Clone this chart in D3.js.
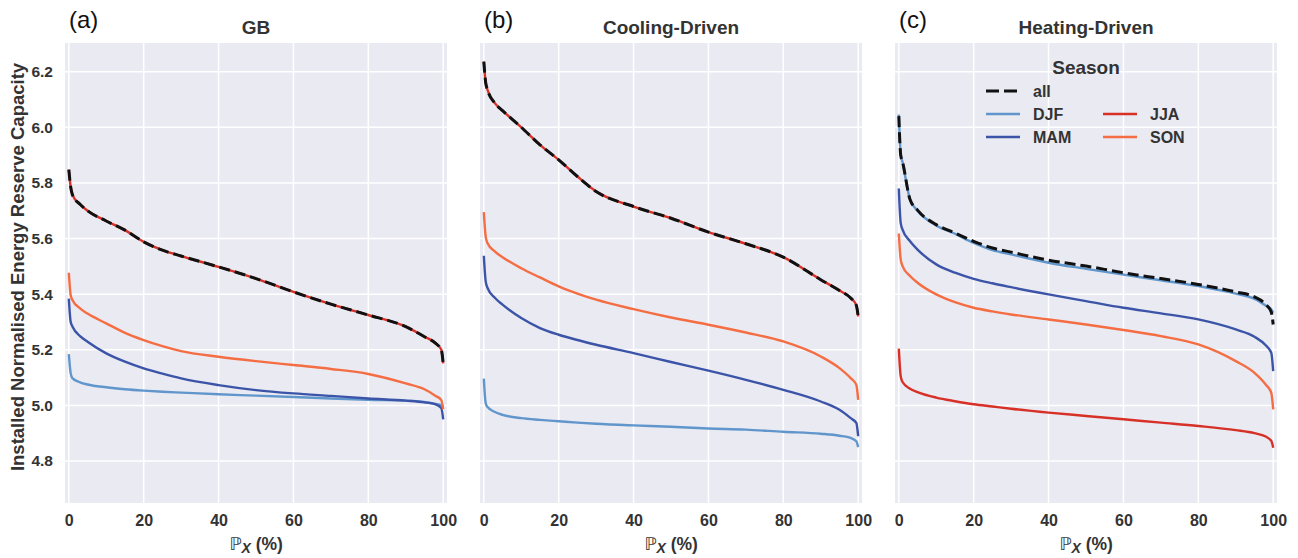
<!DOCTYPE html>
<html>
<head>
<meta charset="utf-8">
<script src="https://cdn.jsdelivr.net/npm/d3@7"></script>
<style>
  body { margin: 0; background: #fff; }
  svg text { font-family: "Liberation Sans", Arial, sans-serif; }
</style>
</head>
<body>
<div id="canvas"></div>
<script>
// x positions (percent of time) shared by every curve
let px = [0, 0.5, 1, 3, 5, 10, 15, 20, 25, 30, 40, 50, 60, 70, 80, 90, 95, 98, 99.5, 100];

// (a) GB
let gbAll = [5.848, 5.785, 5.756, 5.723, 5.700, 5.663, 5.630, 5.588, 5.558, 5.537, 5.498, 5.456, 5.408, 5.364, 5.325, 5.283, 5.247, 5.223, 5.200, 5.151];
let gbDJF = [5.184, 5.115, 5.097, 5.083, 5.075, 5.065, 5.058, 5.053, 5.049, 5.046, 5.040, 5.035, 5.030, 5.025, 5.020, 5.017, 5.012, 5.005, 5.000, 4.995];
let gbMAM = [5.384, 5.300, 5.283, 5.249, 5.229, 5.187, 5.157, 5.133, 5.114, 5.097, 5.073, 5.055, 5.043, 5.034, 5.025, 5.017, 5.011, 5.004, 4.990, 4.950];
let gbJJA = [5.848, 5.785, 5.756, 5.723, 5.700, 5.663, 5.630, 5.588, 5.558, 5.537, 5.498, 5.456, 5.408, 5.364, 5.325, 5.283, 5.247, 5.223, 5.200, 5.151];
let gbSON = [5.477, 5.396, 5.378, 5.349, 5.330, 5.295, 5.261, 5.235, 5.213, 5.195, 5.175, 5.159, 5.145, 5.131, 5.113, 5.079, 5.058, 5.034, 5.019, 4.986];

// (b) Cooling-Driven
let coolAll = [6.236, 6.160, 6.134, 6.086, 6.060, 6.000, 5.937, 5.883, 5.823, 5.769, 5.715, 5.673, 5.623, 5.581, 5.533, 5.452, 5.413, 5.386, 5.360, 5.320];
let coolDJF = [5.096, 5.008, 4.994, 4.976, 4.966, 4.954, 4.948, 4.943, 4.938, 4.934, 4.928, 4.923, 4.917, 4.913, 4.905, 4.898, 4.891, 4.883, 4.871, 4.850];
let coolMAM = [5.538, 5.446, 5.422, 5.386, 5.362, 5.314, 5.278, 5.254, 5.235, 5.218, 5.188, 5.156, 5.125, 5.092, 5.056, 5.014, 4.984, 4.954, 4.937, 4.889];
let coolJJA = [6.236, 6.160, 6.134, 6.086, 6.060, 6.000, 5.937, 5.883, 5.823, 5.769, 5.715, 5.673, 5.623, 5.581, 5.533, 5.452, 5.413, 5.386, 5.360, 5.320];
let coolSON = [5.695, 5.607, 5.583, 5.553, 5.533, 5.493, 5.460, 5.428, 5.402, 5.380, 5.346, 5.316, 5.290, 5.262, 5.230, 5.176, 5.134, 5.098, 5.074, 5.020];

// (c) Heating-Driven
let heatAll = [6.040, 5.900, 5.875, 5.740, 5.702, 5.650, 5.620, 5.590, 5.566, 5.551, 5.522, 5.501, 5.477, 5.456, 5.435, 5.408, 5.390, 5.363, 5.335, 5.291];
let heatDJF = [6.046, 5.905, 5.875, 5.740, 5.700, 5.647, 5.617, 5.584, 5.558, 5.543, 5.513, 5.491, 5.470, 5.450, 5.429, 5.402, 5.383, 5.359, 5.345, 5.333];
let heatMAM = [5.780, 5.656, 5.632, 5.590, 5.560, 5.507, 5.477, 5.455, 5.439, 5.425, 5.399, 5.375, 5.351, 5.331, 5.309, 5.273, 5.247, 5.216, 5.189, 5.123];
let heatJJA = [5.204, 5.105, 5.084, 5.060, 5.048, 5.028, 5.015, 5.004, 4.996, 4.988, 4.974, 4.962, 4.950, 4.938, 4.926, 4.911, 4.900, 4.888, 4.872, 4.848];
let heatSON = [5.618, 5.525, 5.501, 5.465, 5.441, 5.399, 5.371, 5.351, 5.338, 5.327, 5.309, 5.291, 5.271, 5.249, 5.219, 5.159, 5.117, 5.075, 5.045, 4.986];

let seasons = ["DJF", "MAM", "JJA", "SON"];
let seasonColors = { "DJF": "#6096cc", "MAM": "#3b54a8", "JJA": "#d73027", "SON": "#f46d43" };
let panelLetters = ["(a)", "(b)", "(c)"];
let panelTitles = ["GB", "Cooling-Driven", "Heating-Driven"];
let xTicks = [0, 20, 40, 60, 80, 100];
let yTicks = [4.8, 5.0, 5.2, 5.4, 5.6, 5.8, 6.0, 6.2];

let panels = [
    { all: gbAll, DJF: gbDJF, MAM: gbMAM, JJA: gbJJA, SON: gbSON },
    { all: coolAll, DJF: coolDJF, MAM: coolMAM, JJA: coolJJA, SON: coolSON },
    { all: heatAll, DJF: heatDJF, MAM: heatMAM, JJA: heatJJA, SON: heatSON }
];

let width = 1298;
let height = 558;
let plotW = 382;
let plotTop = 43;
let plotBottom = 503;
let lefts = [65, 480, 895];
let textColor = "#333";

let canvas = d3.select("#canvas")
    .append("svg")
    .attr("width", width)
    .attr("height", height);

const yScale = d3.scaleLinear()
    .domain([4.649, 6.303])
    .range([plotBottom, plotTop]);

panels.forEach((p, i) => {
    const xScale = d3.scaleLinear()
        .domain([-1.02, 101.02])
        .range([lefts[i], lefts[i] + plotW]);

    let g = canvas.append("g");

    g.append("rect")
        .attr("x", lefts[i])
        .attr("y", plotTop)
        .attr("width", plotW)
        .attr("height", plotBottom - plotTop)
        .attr("fill", "#eaeaf2");

    // grid
    g.selectAll(".vgrid")
        .data(xTicks)
        .join("line")
        .attr("x1", d => xScale(d)).attr("x2", d => xScale(d))
        .attr("y1", plotTop).attr("y2", plotBottom)
        .attr("stroke", "#fff").attr("stroke-width", 1.5);
    g.selectAll(".hgrid")
        .data(yTicks)
        .join("line")
        .attr("x1", lefts[i]).attr("x2", lefts[i] + plotW)
        .attr("y1", d => yScale(d)).attr("y2", d => yScale(d))
        .attr("stroke", "#fff").attr("stroke-width", 1.5);

    // x axis labels
    let xAxis = d3.axisBottom(xScale).tickValues(xTicks).tickSize(0).tickPadding(0);
    let xa = g.append("g")
        .attr("transform", `translate(0,${plotBottom + 12})`)
        .call(xAxis);
    xa.select(".domain").remove();
    xa.selectAll("text")
        .attr("font-family", "Liberation Sans, Arial, sans-serif")
        .attr("font-size", 16).attr("font-weight", "bold").attr("fill", textColor);

    if (i === 0) {
        let yAxis = d3.axisLeft(yScale).tickValues(yTicks).tickFormat(d3.format(".1f")).tickSize(0).tickPadding(0);
        let ya = g.append("g")
            .attr("transform", `translate(${lefts[i] - 12},0)`)
            .call(yAxis);
        ya.select(".domain").remove();
        ya.selectAll("text")
            .attr("font-family", "Liberation Sans, Arial, sans-serif")
            .attr("font-size", 15.5).attr("font-weight", "bold").attr("fill", textColor);
    }

    let line = d3.line()
        .x((d, k) => xScale(px[k]))
        .y(d => yScale(d))
        .curve(d3.curveMonotoneX);

    seasons.forEach(s => {
        g.append("path")
            .attr("d", line(p[s]))
            .attr("fill", "none")
            .attr("stroke", seasonColors[s])
            .attr("stroke-width", 2.4)
            .attr("stroke-linejoin", "round");
    });
    g.append("path")
        .attr("d", line(p.all))
        .attr("fill", "none")
        .attr("stroke", "#111")
        .attr("stroke-width", 3)
        .attr("stroke-dasharray", "11,5");

    // titles
    g.append("text")
        .attr("x", lefts[i] + 4)
        .attr("y", 28)
        .attr("font-size", 24)
        .attr("fill", "#111")
        .text(panelLetters[i]);
    g.append("text")
        .attr("x", lefts[i] + plotW / 2)
        .attr("y", 34)
        .attr("text-anchor", "middle")
        .attr("font-size", 19)
        .attr("font-weight", "bold")
        .attr("fill", textColor)
        .text(panelTitles[i]);

    let xl = g.append("text")
        .attr("x", lefts[i] + plotW / 2)
        .attr("y", 550)
        .attr("text-anchor", "middle")
        .attr("font-size", 17.5)
        .attr("font-weight", "bold")
        .attr("fill", textColor);
    xl.append("tspan").attr("font-family", "DejaVu Sans").attr("font-weight", "normal").text("ℙ");
    xl.append("tspan").attr("font-style", "italic").attr("font-size", 14).attr("dy", 3).text("X");
    xl.append("tspan").attr("dy", -3).text(" (%)");
});

// y label
canvas.append("text")
    .attr("transform", `translate(24,${(plotTop + plotBottom) / 2 - 6}) rotate(-90)`)
    .attr("text-anchor", "middle")
    .attr("font-size", 18.5)
    .attr("font-weight", "bold")
    .attr("fill", textColor)
    .text("Installed Normalised Energy Reserve Capacity");

// legend
let legend = canvas.append("g");
legend.append("text")
    .attr("x", 1086).attr("y", 74)
    .attr("text-anchor", "middle")
    .attr("font-size", 19).attr("font-weight", "bold").attr("fill", textColor)
    .text("Season");

let legendItems = [
    { key: "all", col: 0, row: 0 },
    { key: "DJF", col: 0, row: 1 },
    { key: "MAM", col: 0, row: 2 },
    { key: "JJA", col: 1, row: 1 },
    { key: "SON", col: 1, row: 2 }
];
legendItems.forEach(it => {
    let x0 = it.col === 0 ? 986 : 1103;
    let y0 = 91 + it.row * 23;
    legend.append("line")
        .attr("x1", x0).attr("x2", x0 + 34)
        .attr("y1", y0).attr("y2", y0)
        .attr("stroke", it.key === "all" ? "#111" : seasonColors[it.key])
        .attr("stroke-width", it.key === "all" ? 3 : 2.4)
        .attr("stroke-dasharray", it.key === "all" ? "13,5" : null);
    legend.append("text")
        .attr("x", x0 + 47).attr("y", y0 + 6)
        .attr("font-size", 16).attr("font-weight", "bold").attr("fill", textColor)
        .text(it.key);
});
</script>
</body>
</html>
